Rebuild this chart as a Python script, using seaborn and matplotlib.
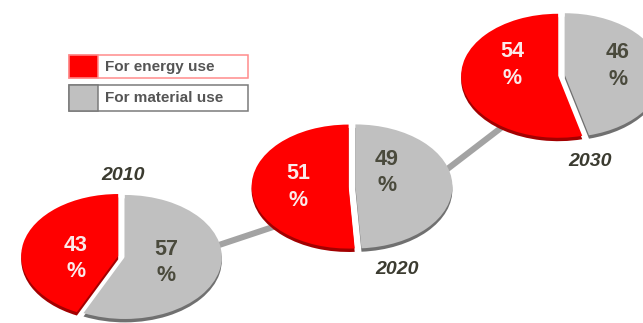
import matplotlib
matplotlib.use("Agg")
import matplotlib.pyplot as plt
import seaborn as sns
import pandas as pd
from matplotlib.patches import Rectangle

# Share of use per year (percent)
years = ["2010", "2020", "2030"]
energy_use = [43, 51, 54]
material_use = [57, 49, 46]
legend_labels = ["For energy use", "For material use"]

RED = "#ff0000"
RED_DARK = "#a30000"
GRAY = "#c0c0c0"
GRAY_DARK = "#707070"
LABEL_DARK = "#4a4a3c"
YEAR_COLOR = "#3b3b30"

W, H = 643, 323
sns.set_theme(style="white")
plt.rcParams["font.family"] = ["Liberation Sans", "DejaVu Sans"]

fig = plt.figure(figsize=(W / 100, H / 100), dpi=100)
fig.patch.set_facecolor("white")

# background canvas in pixel units (y down)
bg = fig.add_axes([0, 0, 1, 1])
bg.set_xlim(0, W)
bg.set_ylim(H, 0)
bg.axis("off")

# pie placement (pixels)
centers = [(121.5, 256.5), (352, 186.5), (561.5, 75.5)]
RX, RY = 97, 62
year_pos = [(123, 176), (397, 270), (590, 161)]
# label offsets from pie centre (pixels, y down): (energy, material)
label_offsets = [((-45.5, 2), (44.5, 6)),
                 ((-54, 0.5), (35, -14)),
                 ((-49.5, -10.5), (56.5, -9.5))]

# connector segments hidden under the pies
links = [pd.DataFrame({"x": [150, 330], "y": [268, 208]}),
         pd.DataFrame({"x": [420, 540], "y": [190, 98]})]
for seg in links:
    sns.lineplot(data=seg, x="x", y="y", ax=bg, color="#a3a3a3",
                 linewidth=4.4, sort=False, solid_capstyle="butt")
bg.set_xlabel("")
bg.set_ylabel("")

# legend boxes
legend_rows = [(55, 23, RED, "#ff8c8c"), (85, 26, GRAY, "#7a7a7a")]
for (top, hgt, fc, ec), lab in zip(legend_rows, legend_labels):
    bg.add_patch(Rectangle((69, top), 179, hgt, facecolor="white",
                           edgecolor=ec, linewidth=1.1))
    bg.add_patch(Rectangle((69, top), 29, hgt, facecolor=fc,
                           edgecolor=ec, linewidth=1.1))
    bg.text(105, top + hgt / 2 + 0.5, lab, fontsize=11, fontweight="bold",
            color="#555555", ha="left", va="center")

# one flattened pie per year
pad = 1.15
for (cx, cy), e, m, yr, (yx, yy), offs in zip(centers, energy_use,
                                              material_use, years, year_pos,
                                              label_offsets):
    w, h = 2 * RX * pad, 2 * RY * pad
    ax = fig.add_axes([(cx - w / 2) / W, 1 - (cy + h / 2) / H, w / W, h / H])
    vals = [e, m]
    # darker copy slightly lower, giving the rim
    ax.pie(vals, colors=[RED_DARK, GRAY_DARK], startangle=90,
           explode=[0.035, 0.035], center=(0, -0.055), radius=1,
           wedgeprops=dict(linewidth=0))
    wedges, texts, autotexts = ax.pie(
        vals, colors=[RED, GRAY], startangle=90, explode=[0.035, 0.035],
        radius=1, wedgeprops=dict(linewidth=0),
        autopct=lambda p: f"{p:.0f}\n%", pctdistance=0.5,
        textprops=dict(fontsize=15.5, fontweight="bold", linespacing=1.35))
    for t, (dx, dy), col in zip(autotexts, offs, ["#fbeaea", LABEL_DARK]):
        t.set_position((dx / RX, -dy / RY))
        t.set_color(col)
    ax.set_aspect("auto")
    ax.set_xlim(-pad, pad)
    ax.set_ylim(-pad, pad)
    ax.axis("off")
    bg.text(yx, yy, yr, fontsize=14, fontweight="bold", fontstyle="italic",
            color=YEAR_COLOR, ha="center", va="center")

fig.savefig("out.png", dpi=100, facecolor="white")
